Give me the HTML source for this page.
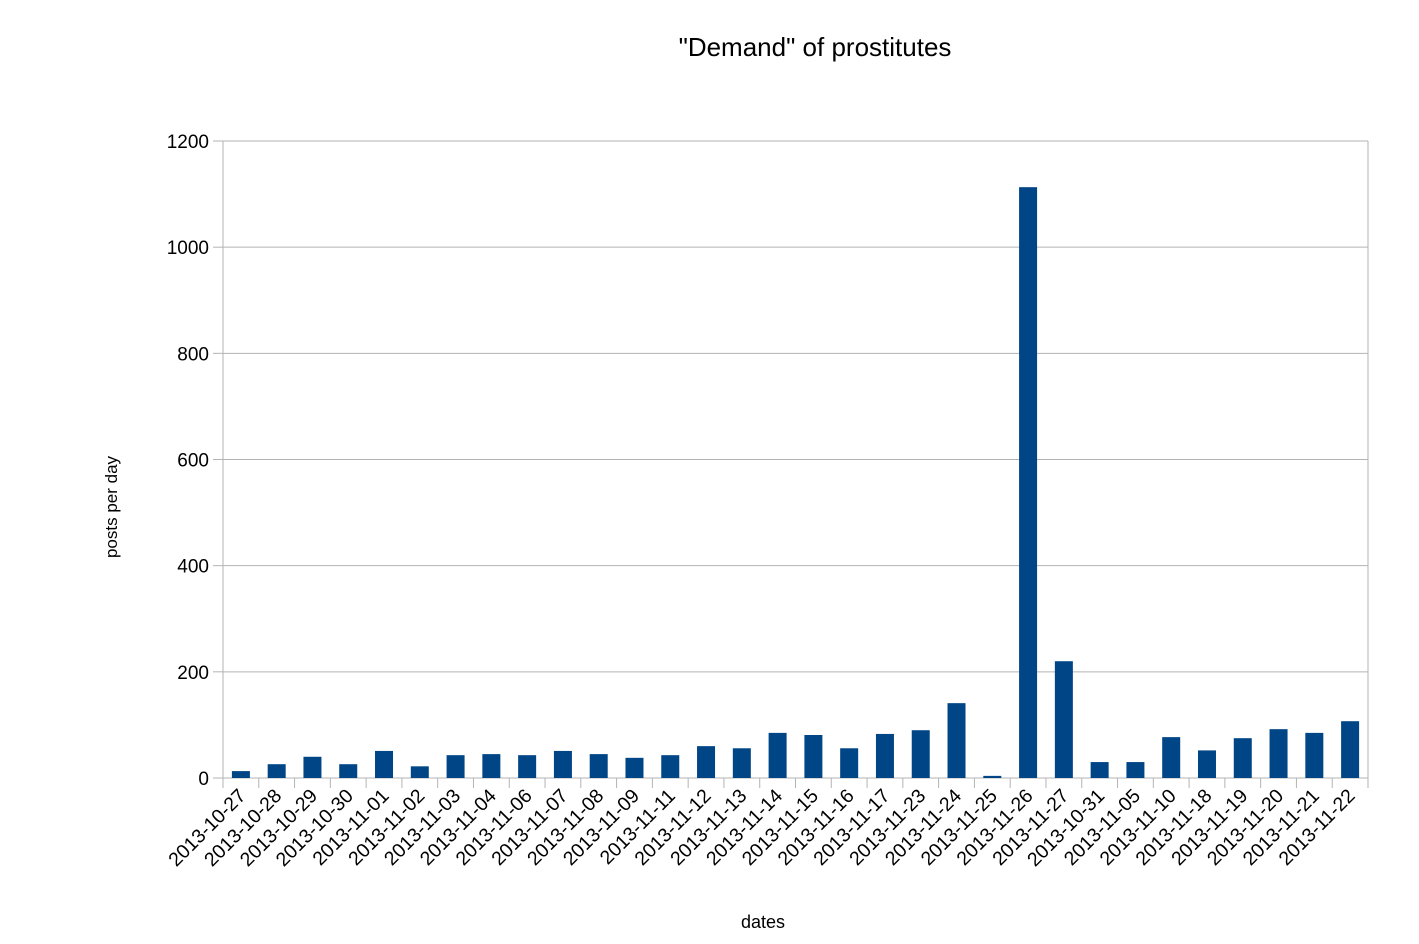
<!DOCTYPE html>
<html><head><meta charset="utf-8"><style>
body{margin:0;background:#fff;}
svg{display:block;font-family:"Liberation Sans",sans-serif;}
</style></head><body>
<svg id="chart" width="1419" height="944">
<text x="815" y="56" font-size="26" text-anchor="middle">"Demand" of prostitutes</text>
<text x="763" y="928" font-size="18" text-anchor="middle">dates</text>
<text transform="translate(117,507) rotate(-90)" font-size="17" text-anchor="middle">posts per day</text>
<g id="grid"></g><g id="bars"></g><g id="xlabels"></g><g id="ylabels"></g>
</svg>
<script>
const categories=["2013-10-27","2013-10-28","2013-10-29","2013-10-30","2013-11-01","2013-11-02","2013-11-03","2013-11-04","2013-11-06","2013-11-07","2013-11-08","2013-11-09","2013-11-11","2013-11-12","2013-11-13","2013-11-14","2013-11-15","2013-11-16","2013-11-17","2013-11-23","2013-11-24","2013-11-25","2013-11-26","2013-11-27","2013-10-31","2013-11-05","2013-11-10","2013-11-18","2013-11-19","2013-11-20","2013-11-21","2013-11-22"];
const values=[13,26,40,26,51,22,43,45,43,51,45,38,43,60,56,85,81,56,83,90,141,4,1113,220,30,30,77,52,75,92,85,107];
const yTicks=[0,200,400,600,800,1000,1200];
const NS="http://www.w3.org/2000/svg";
const L=223,R=1368,T=141,B=778,yMax=1200;
const y=v=>B-(B-T)*v/yMax;
const step=(R-L)/categories.length;
const x=i=>L+step*i;
function mk(tag,attrs,parent){const e=document.createElementNS(NS,tag);for(const k in attrs)e.setAttribute(k,attrs[k]);document.getElementById(parent).appendChild(e);return e;}
yTicks.forEach(t=>{
 const g=mk('line',{x1:L,x2:R,y1:y(t),y2:y(t),stroke:'#b3b3b3','stroke-width':1},'grid');
 
 
 const tk=mk('line',{x1:L-10,x2:L,y1:y(t),y2:y(t),stroke:'#b3b3b3'},'grid');
 
 
 const tx=mk('text',{x:L-14,y:y(t)+7,'font-size':19,'text-anchor':'end'},'ylabels');
 tx.textContent=t;
 
 
});
const ax=mk('line',{x1:L,x2:L,y1:T,y2:B+10,stroke:'#b3b3b3'},'grid');


const ax2=mk('line',{x1:R,x2:R,y1:T,y2:B,stroke:'#b3b3b3'},'grid');


for(let i=0;i<=categories.length;i++){
 const tk=mk('line',{x1:x(i),x2:x(i),y1:B,y2:B+10,stroke:'#b3b3b3'},'grid');
 
 
}
categories.forEach((c,i)=>{
 const bw=18,cx=x(i)+step/2;
 const r=mk('rect',{x:cx-bw/2,y:y(values[i]),width:bw,height:B-y(values[i]),fill:'#004586'},'bars');
 
 
 const t=mk('text',{x:cx+6,y:B+19,'font-size':19.5,'text-anchor':'end',transform:`rotate(-45 ${cx+6} ${B+19})`},'xlabels');
 t.textContent=c;
 
 
});
</script>
</body></html>
